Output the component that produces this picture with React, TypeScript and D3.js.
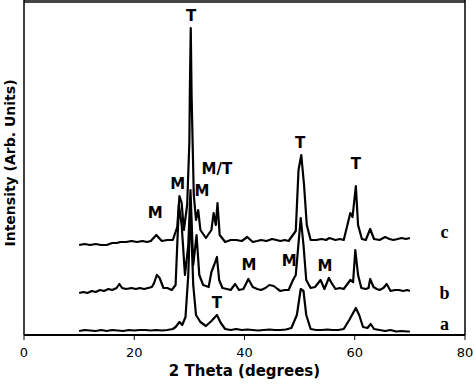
import React, { useEffect } from "react";
import * as d3 from "d3";

// 2 theta (deg), intensity (arb. units, traces already stacked)
const thetaA = [10, 11, 12, 13, 14, 15, 16, 17, 18, 19, 20, 21, 22, 23, 24, 25, 26, 27, 27.5, 28.2, 28.7, 29.3, 29.8, 30.2, 30.7, 31.2, 32, 33, 34, 35, 35.7, 36.5, 37.5, 38.5, 39.5, 40.5, 41.5, 42.5, 43.5, 44.5, 45.5, 46.5, 47.5, 48.5, 49.5, 50.2, 50.7, 51.2, 52, 53, 54, 55, 56, 57, 58, 59, 59.7, 60.2, 60.8, 61.5, 62.3, 62.9, 63.5, 64.5, 65.5, 66.5, 67.5, 68.5, 69.5, 70];
const intA = [4, 5, 4.5, 4, 5, 4, 5, 4.5, 4, 5, 4.5, 5, 5, 4.5, 5, 4.5, 5, 6, 8, 13, 10, 18, 60, 130, 50, 20, 13, 9, 14, 20, 12, 6, 5, 6, 5, 5.5, 5, 4.5, 5, 5.5, 5, 5, 5.5, 7, 20, 46, 44, 20, 6, 5, 5, 5.5, 5, 5, 6, 15, 22, 27, 20, 8, 7, 11, 6, 5, 4, 5, 3.5, 4, 3.5, 3.5];

const thetaB = [10, 10.8, 11.5, 12.3, 13, 13.8, 14.5, 15.3, 16, 16.8, 17.3, 17.8, 18.5, 19.5, 20.3, 21, 21.8, 22.5, 23.2, 23.6, 24.1, 24.6, 25.3, 26, 26.8, 27.5, 28.1, 28.6, 29.2, 29.8, 30.2, 30.7, 31.3, 31.8, 32.5, 33.5, 34, 34.5, 35, 35.4, 36, 36.8, 37.5, 38.3, 39, 39.8, 40.7, 41.5, 42.3, 43, 43.8, 44.5, 45.3, 46, 46.5, 47.3, 48, 48.8, 49.3, 50.2, 50.7, 51.2, 52, 52.8, 53.8, 54.5, 55.3, 55.8, 56.5, 57.3, 58, 59.2, 59.7, 60.1, 60.6, 61.2, 62, 62.5, 62.8, 63.4, 64, 64.5, 65.2, 65.8, 66.5, 67.3, 68, 68.8, 69.5, 70];
const intB = [42, 43, 42, 44, 43, 45, 44, 46, 45, 47, 51, 47, 46, 47, 46, 47, 46, 47, 48, 52, 60, 57, 47, 47, 45, 50, 130, 110, 60, 90, 145, 70, 100, 60, 50, 48, 63, 70, 78, 55, 47, 46, 45, 51, 45, 46, 56, 48, 46, 45, 47, 50, 49, 46, 44, 45, 45, 55, 60, 117, 90, 55, 47, 48, 55, 46, 57, 52, 46, 47, 46, 55, 53, 85, 60, 47, 46, 47, 56, 48, 46, 45, 47, 51, 44, 45, 45, 44, 45, 44];

const thetaC = [10, 11, 12, 13, 14, 15, 16, 16.8, 17.5, 18.5, 19.5, 20.5, 21.5, 22.3, 23, 24, 25, 26, 27, 27.8, 28.2, 28.6, 29, 29.6, 30, 30.1, 30.25, 30.4, 30.8, 31.2, 31.6, 32, 33, 34, 34.4, 34.8, 35.1, 35.5, 36.5, 37.5, 38.5, 39.5, 40.5, 41.5, 42.3, 43, 44, 45, 45.8, 46.5, 47.3, 48, 49.3, 49.8, 50.3, 50.8, 51.3, 52, 53, 54, 54.8, 55.4, 56.5, 57.3, 58, 59.2, 59.6, 60.2, 60.6, 61.3, 62, 62.8, 63.5, 64.5, 65.5, 66.3, 67, 67.8, 68.5, 69.3, 70];
const intC = [90, 91, 90, 91, 90, 90, 92, 92, 93, 93, 94, 93, 94, 93, 94, 100, 94, 95, 95, 108, 139, 132, 105, 130, 193, 250, 307, 240, 140, 115, 125, 105, 97, 105, 122, 110, 132, 100, 93, 95, 95, 94, 98, 93, 94, 95, 94, 96, 95, 94, 95, 94, 104, 165, 180, 150, 110, 95, 95, 96, 95, 97, 95, 96, 95, 122, 118, 149, 110, 96, 95, 106, 96, 95, 98, 96, 95, 96, 97, 96, 97];

const xTicks = [0, 20, 40, 60, 80];

const peakLabels = ["T", "M/T", "M", "M", "M", "T", "T", "M", "M", "M", "T"];
const peakTheta = [30.3, 35.0, 27.9, 32.3, 23.8, 50.1, 60.2, 40.8, 48.1, 54.6, 35.0];
const peakInt = [314, 161, 146, 139, 117, 187, 166, 65, 69, 64, 27];

const traceNames = ["c", "b", "a"];
const traceNameInt = [97, 36, 5];

const W = 474;
const H = 389;
const margin = { top: 1, right: 9, bottom: 54, left: 24 };

export default function App() {
  useEffect(() => {
    document.body.style.margin = "0";
  }, []);

  const x = d3.scaleLinear().domain([0, 80]).range([margin.left, W - margin.right]);
  const y = d3.scaleLinear().domain([0, 334]).range([H - margin.bottom, margin.top]);

  const line = d3
    .line<[number, number]>()
    .x((d) => x(d[0]))
    .y((d) => y(d[1]));

  const traces = [
    d3.zip(thetaA, intA) as [number, number][],
    d3.zip(thetaB, intB) as [number, number][],
    d3.zip(thetaC, intC) as [number, number][],
  ];

  const y0 = y(0);
  const sans = "'DejaVu Sans', Verdana, sans-serif";

  return (
    <svg width={W} height={H} style={{ display: "block", background: "#fff" }}>
      {traces.map((t, i) => (
        <path key={i} d={line(t) || ""} fill="none" stroke="#000" strokeWidth={2.2} strokeLinejoin="round" />
      ))}

      {/* frame */}
      <line x1={x(0)} x2={x(80)} y1={1.5} y2={1.5} stroke="#444" strokeWidth={3} />
      <line x1={x(0)} x2={x(0)} y1={0} y2={y0} stroke="#000" strokeWidth={1.5} />
      <line x1={x(80)} x2={x(80)} y1={0} y2={y0} stroke="#000" strokeWidth={1.5} />
      <line x1={x(0)} x2={x(80)} y1={y0} y2={y0} stroke="#000" strokeWidth={2} />

      {xTicks.map((v) => (
        <g key={v}>
          <line x1={x(v)} x2={x(v)} y1={y0} y2={y0 + 5} stroke="#000" strokeWidth={1} />
          <text x={x(v)} y={357} textAnchor="middle" fontFamily={sans} fontSize={13}>
            {v}
          </text>
        </g>
      ))}

      <text x={(x(0) + x(80)) / 2} y={376} textAnchor="middle" fontFamily={sans} fontSize={15} fontWeight="bold">
        2 Theta (degrees)
      </text>
      <text
        transform={`translate(15, 163) rotate(-90)`}
        textAnchor="middle"
        fontFamily={sans}
        fontSize={14}
        fontWeight="bold"
      >
        Intensity (Arb. Units)
      </text>

      {peakLabels.map((s, i) => (
        <text key={i} x={x(peakTheta[i])} y={y(peakInt[i])} textAnchor="middle" fontFamily={sans} fontSize={15} fontWeight="bold">
          {s}
        </text>
      ))}

      {traceNames.map((s, i) => (
        <text key={s} x={x(76.3)} y={y(traceNameInt[i])} textAnchor="middle" fontFamily="'Liberation Serif', 'Times New Roman', serif" fontSize={18} fontWeight="bold">
          {s}
        </text>
      ))}
    </svg>
  );
}
